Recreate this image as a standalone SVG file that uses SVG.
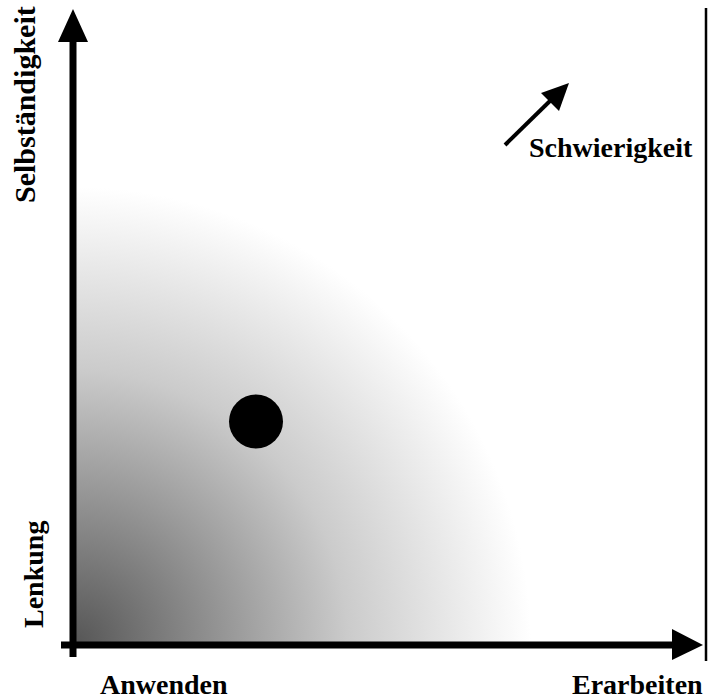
<svg xmlns="http://www.w3.org/2000/svg" width="714" height="700" viewBox="0 0 714 700">
  <style>
    .lbl { font-family: "Liberation Serif", "Times New Roman", serif; font-weight: bold; font-size: 28px; fill: #000; }
    .axis { stroke: #000; stroke-width: 7; fill: none; }
  </style>
  <defs>
    <radialGradient id="g" gradientUnits="userSpaceOnUse" cx="73" cy="645" r="458">
      <stop offset="0" stop-color="#555555"/>
      <stop offset="0.6" stop-color="#cbcbcb"/>
      <stop offset="1" stop-color="#ffffff"/>
    </radialGradient>
  </defs>
  <rect width="714" height="700" fill="#fff"/>
  <rect id="area" x="73" y="180" width="465" height="465" fill="url(#g)"/>
  <g id="connectors">
    <line class="axis" x1="73" y1="657" x2="73" y2="40"/>
    <polygon points="73,9 58,42 88,42" fill="#000"/>
    <line class="axis" x1="61" y1="645" x2="674" y2="645"/>
    <polygon points="703,645 672,629 672,660" fill="#000"/>
    <line x1="706" y1="8" x2="706" y2="661" stroke="#000" stroke-width="2.5"/>
    <line x1="505" y1="145" x2="552" y2="99" stroke="#000" stroke-width="4"/>
    <polygon points="569,83 541,93 559,111" fill="#000"/>
  </g>
  <g id="point"><circle cx="256" cy="421.5" r="27" fill="#000"/></g>
  <g id="label-selbst"><text class="lbl" style="font-size:30px" transform="translate(35,203) rotate(-90)">Selbständigkeit</text></g>
  <g id="label-lenkung"><text class="lbl" transform="translate(43,628) rotate(-90)">Lenkung</text></g>
  <g id="label-anwenden"><text class="lbl" x="100" y="694">Anwenden</text></g>
  <g id="label-erarbeiten"><text class="lbl" x="572" y="694">Erarbeiten</text></g>
  <g id="label-schwierigkeit"><text class="lbl" x="529" y="157">Schwierigkeit</text></g>
</svg>
